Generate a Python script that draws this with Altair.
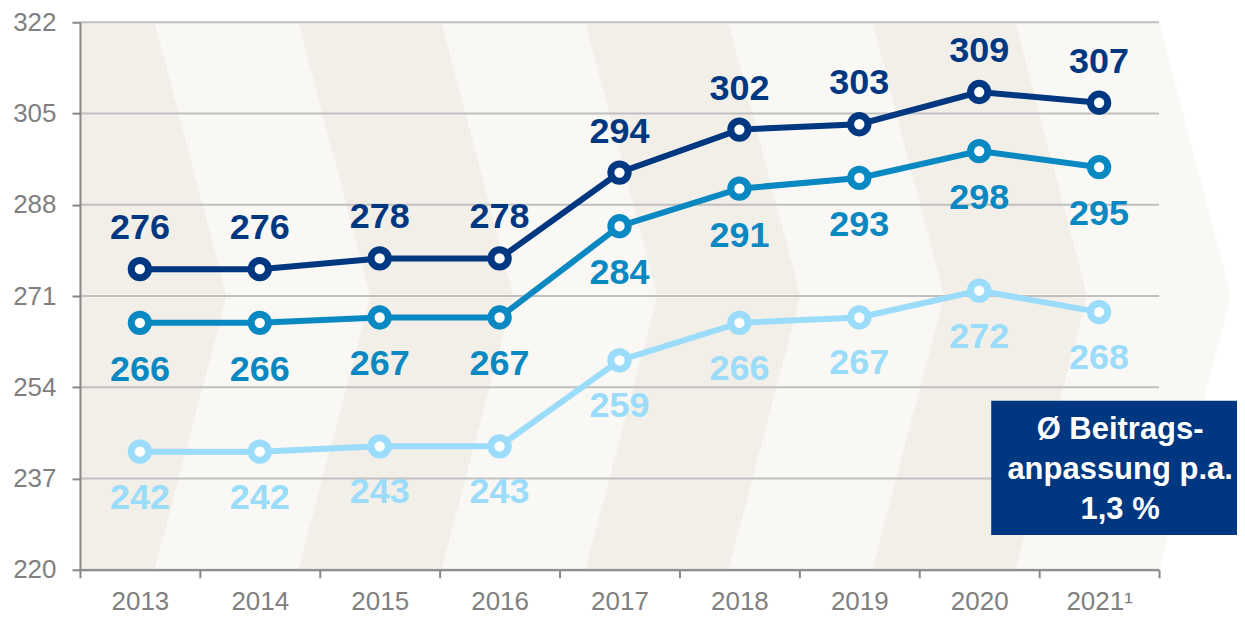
import json
import altair as alt
import pandas as pd

# ---- data ----
years = [2013, 2014, 2015, 2016, 2017, 2018, 2019, 2020, 2021]
x_labels = ["2013", "2014", "2015", "2016", "2017", "2018", "2019", "2020", "2021¹"]
series_top = [276, 276, 278, 278, 294, 302, 303, 309, 307]
series_mid = [266, 266, 267, 267, 284, 291, 293, 298, 295]
series_low = [242, 242, 243, 243, 259, 266, 267, 272, 268]
y_ticks = [220, 237, 254, 271, 288, 305, 322]
series_names = ["oben", "mitte", "unten"]
series_colors = ["#003781", "#0a88c1", "#9adcf9"]
label_dy = [-41, 47, 46]
note_lines = ["Ø Beitrags-", "anpassung p.a.", "1,3 %"]

FONT = "Liberation Sans"
x_min, x_max = years[0] - 0.5, years[-1] + 0.5
y_min, y_max = y_ticks[0], y_ticks[-1]
xscale = alt.Scale(domain=[x_min, x_max], nice=False, zero=False)
yscale = alt.Scale(domain=[y_min, y_max], nice=False, zero=False)

label_expr = f"{json.dumps(x_labels, ensure_ascii=False)}[round(datum.value - {x_min})] || ''"

x_axis = alt.Axis(
    values=[y - 0.5 for y in years] + [x_max],
    labelExpr=label_expr,
    labelOffset=60,
    labelFlush=False,
    labelOverlap=False,
    labelFont=FONT,
    labelFontSize=26,
    labelColor="#7f7f7f",
    labelPadding=11,
    tickSize=8,
    tickWidth=2,
    tickColor="#888888",
    domainColor="#888888",
    domainWidth=2,
    grid=False,
    title=None,
    zindex=1,
)
y_axis = alt.Axis(
    values=y_ticks,
    labelFont=FONT,
    labelFontSize=26,
    labelColor="#7f7f7f",
    labelPadding=16,
    tickSize=8,
    tickWidth=2,
    tickColor="#888888",
    domainColor="#888888",
    domainWidth=2,
    grid=False,
    title=None,
    zindex=1,
)

# ---- background chevrons (decoration, in data units) ----
first_b, step_b, tip = 2013.125, (x_max - 2013.125) / 7, 0.6
bounds = [first_b + i * step_b for i in range(8)]
y_mid = (y_min + y_max) / 2
rows = []
for k in range(8):
    if k == 0:
        left = (x_min, x_min, x_min)
    else:
        b = bounds[k - 1]
        left = (b, b + tip, b)
    b = bounds[k]
    right = (b, b + tip, b)
    fill = "#f2efe8" if k % 2 == 0 else "#f9f8f5"
    for yy, l, r in zip((y_max, y_mid, y_min), left, right):
        rows.append({"band": k, "y": yy, "x0": l, "x1": r, "fill": fill})
chev = pd.DataFrame(rows)

chevrons = alt.Chart(chev).mark_area(orient="horizontal", interpolate="linear").encode(
    y=alt.Y("y:Q", scale=yscale, axis=y_axis),
    x=alt.X("x0:Q", scale=xscale, axis=x_axis),
    x2="x1:Q",
    color=alt.Color("fill:N", scale=None),
    detail="band:N",
)

grid = alt.Chart(pd.DataFrame({"v": y_ticks})).mark_rule(color="#c0c0c0", strokeWidth=2).encode(
    y=alt.Y("v:Q", scale=yscale)
)

# ---- series ----
rows = []
for name, vals in zip(series_names, [series_top, series_mid, series_low]):
    for yr, v in zip(years, vals):
        rows.append({"year": yr, "value": v, "series": name})
df = pd.DataFrame(rows)

color_scale = alt.Scale(domain=series_names, range=series_colors)

lines = alt.Chart(df).mark_line(strokeWidth=6).encode(
    x=alt.X("year:Q", scale=xscale),
    y=alt.Y("value:Q", scale=yscale),
    color=alt.Color("series:N", scale=color_scale, legend=None),
)

points = alt.Chart(df).mark_circle(fill="white", strokeWidth=7, size=300, opacity=1).encode(
    x=alt.X("year:Q", scale=xscale),
    y=alt.Y("value:Q", scale=yscale),
    stroke=alt.Stroke("series:N", scale=color_scale, legend=None),
)

labels = []
for name, dy in zip(series_names, label_dy):
    labels.append(
        alt.Chart(df).transform_filter(alt.datum.series == name).mark_text(
            font=FONT, fontSize=36, fontWeight="bold", dy=dy, baseline="middle", align="center"
        ).encode(
            x=alt.X("year:Q", scale=xscale),
            y=alt.Y("value:Q", scale=yscale),
            text="value:Q",
            color=alt.Color("series:N", scale=color_scale, legend=None),
        )
    )

# ---- annotation box ----
note = pd.DataFrame({"x0": [2020.1], "x1": [2022.3], "y0": [251.5], "y1": [226.5],
                     "xc": [2021.175], "yc": [246.0], "txt": ["\n".join(note_lines)]})
box = alt.Chart(note).mark_rect(color="#003781").encode(
    x=alt.X("x0:Q", scale=xscale), x2="x1:Q",
    y=alt.Y("y0:Q", scale=yscale), y2="y1:Q",
)
box_text = alt.Chart(note).mark_text(
    font=FONT, fontSize=31, fontWeight="bold", color="white", lineBreak="\n",
    lineHeight=40, align="center", baseline="middle"
).encode(
    x=alt.X("xc:Q", scale=xscale),
    y=alt.Y("yc:Q", scale=yscale),
    text="txt:N",
)

chart = alt.layer(chevrons, grid, lines, points, *labels, box, box_text).properties(
    width=1080,
    height=548,
    padding={"left": 72, "top": 14, "right": 78, "bottom": 47},
    autosize=alt.AutoSizeParams(type="none"),
    background="white",
).configure_view(stroke=None)

chart.save("out.html", embed_options={"renderer": "svg", "actions": False})
